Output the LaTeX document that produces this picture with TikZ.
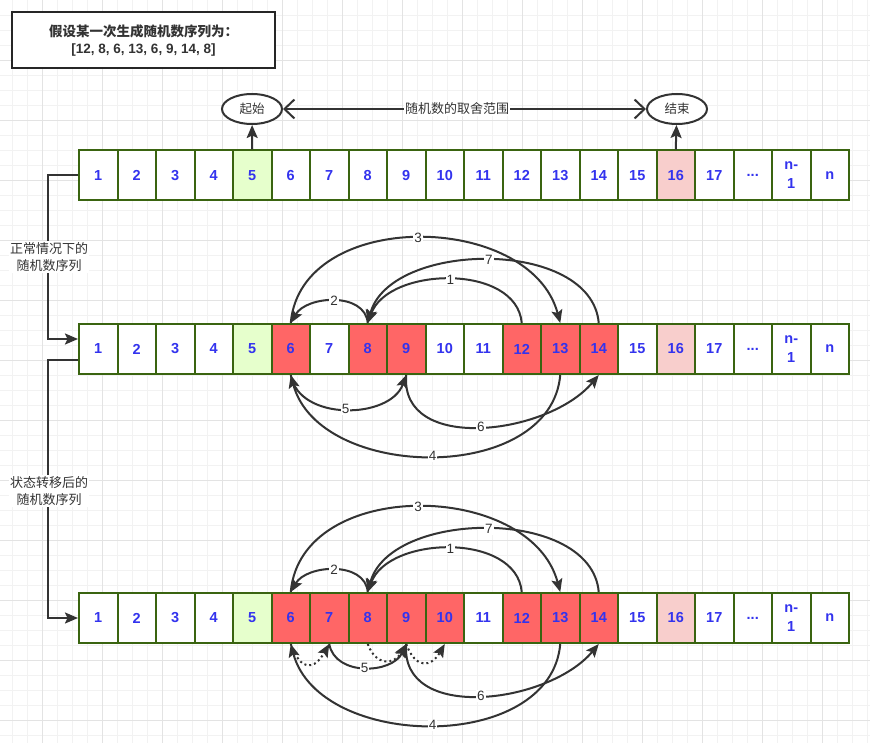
\documentclass[tikz,border=0pt]{standalone}
\usepackage{fontspec}
\setmainfont{Liberation Sans}
\newfontfamily\cjk{Noto Sans CJK SC}
\usetikzlibrary{arrows.meta, shapes.geometric}

\definecolor{cellline}{HTML}{3A6410}
\definecolor{hitred}{HTML}{FF6666}
\definecolor{lowgreen}{HTML}{E6FFCC}
\definecolor{highpink}{HTML}{F8CECC}
\definecolor{numblue}{HTML}{3333EE}
\definecolor{ink}{HTML}{333333}

\tikzset{
  gridminor/.style={draw=black!5, line width=0.8pt},
  gridmajor/.style={draw=black!11, line width=0.8pt},
  cell/.style={draw=cellline, line width=2pt, fill=white, minimum width=38.5pt,
    minimum height=50pt, inner sep=0pt, align=center, text=numblue,
    font=\fontsize{14.5}{19}\selectfont\bfseries},
  emp/.style={},
  beg/.style={fill=lowgreen},
  hit/.style={fill=hitred},
  fin/.style={fill=highpink},
  bound/.style={ellipse, draw=ink, line width=2pt, fill=white, minimum width=60pt,
    minimum height=30pt, inner sep=0pt, text=ink, font=\cjk\fontsize{12.5}{15}\selectfont},
  conn/.style={draw=ink, line width=2pt},
  arr/.style={conn, -{Stealth[length=13pt,width=11pt,inset=2.5pt]}},
  lbl/.style={fill=white, text=ink, inner sep=1pt, font=\fontsize{13.5}{15}\selectfont},
  side/.style={fill=white, text=ink, inner sep=1pt, align=center, font=\cjk\fontsize{13}{17}\selectfont}
}

% one row of cells: name, y, fills of cells 1..17
\newcommand\cellrow[3]{%
  \foreach \f [count=\i] in {#3}
    \node[cell, \f] (#1-\i) at ({79+38.5*(\i-0.5)}, #2) {\i};
  \node[cell] (#1-18) at (752.75, #2) {...};
  \node[cell] (#1-19) at (791.25, #2) {n-\\1};
  \node[cell] (#1-20) at (829.75, #2) {n};
}

\begin{document}
\begin{tikzpicture}[x=1pt, y=-1pt]

% Background grid
\fill[white] (0,0) rectangle (870,743);
\useasboundingbox (0,0) rectangle (870,743);
\foreach \gx in {12,27,...,867} \draw[gridminor] (\gx,0) -- (\gx,743);
\foreach \gy in {15,30,...,735} \draw[gridminor] (0,\gy) -- (870,\gy);
\foreach \gx in {42,102,...,822} \draw[gridmajor] (\gx,0) -- (\gx,743);
\foreach \gy in {60,120,...,720} \draw[gridmajor] (0,\gy) -- (870,\gy);

% Title
\node[draw=black!85, line width=2pt, fill=white, minimum width=263pt, minimum height=56pt,
  align=center, text=ink, font=\fontsize{13.5}{17}\selectfont\bfseries]
  (title) at (143.5,40.5) {{\cjk 假设某一次生成随机数序列为：}\\{[12, 8, 6, 13, 6, 9, 14, 8]}};

% Rows
\cellrow{r1}{175.5}{emp,emp,emp,emp,beg,emp,emp,emp,emp,emp,emp,emp,emp,emp,emp,fin,emp}
\cellrow{r2}{349}{emp,emp,emp,emp,beg,hit,emp,hit,hit,emp,emp,hit,hit,hit,emp,fin,emp}
\cellrow{r3}{618}{emp,emp,emp,emp,beg,hit,hit,hit,hit,hit,emp,hit,hit,hit,emp,fin,emp}

% Range
\node[bound] (lo) at (252,109) {起始};
\node[bound] (hi) at (677,109) {结束};
\draw[conn, {Straight Barb[length=10pt,width=19pt]}-{Straight Barb[length=10pt,width=19pt]}]
  (lo) -- node[lbl, pos=0.48, font=\cjk\fontsize{13}{15}\selectfont] {随机数的取舍范围} (hi);
\draw[arr] (r1-5.north) -- (lo);
\draw[arr] (r1-16.north) -- (hi);

% Left links
\draw[arr] (r1-1.west) -- ++(-30,0) |- ([yshift=10pt]r2-1.west);
\draw[arr] ([yshift=-11pt]r2-1.west) -- ++(-30,0) |- (r3-1.west);
\node[side] (normal) at (49,257) {正常情况下的\\随机数序列};
\node[side] (moved) at (49,491) {状态转移后的\\随机数序列};

% Jumps, normal case
\draw[arr] (r2-12.north) to[out=95,in=70,looseness=1] node[lbl] {1} (r2-8.north);
\draw[arr] (r2-8.north) to[out=95,in=60,looseness=1.05] node[lbl] {2} (r2-6.north);
\draw[arr] (r2-6.north) to[out=85,in=105,looseness=1.1] node[lbl] {3} (r2-13.north);
\draw[arr] (r2-14.north) to[out=95,in=75,looseness=0.95] node[lbl] {7} (r2-8.north);
\draw[arr] (r2-13.south) to[out=-95,in=-75,looseness=1.05] node[lbl] {4} (r2-6.south);
\draw[arr] (r2-6.south) to[out=-80,in=-110,looseness=1.05] node[lbl] {5} (r2-9.south);
\draw[arr] (r2-9.south) to[out=-95,in=-130,looseness=1.05] node[lbl] {6} (r2-14.south);

% Jumps, after moving
\draw[arr] (r3-12.north) to[out=95,in=70,looseness=1] node[lbl] {1} (r3-8.north);
\draw[arr] (r3-8.north) to[out=95,in=60,looseness=1.05] node[lbl] {2} (r3-6.north);
\draw[arr] (r3-6.north) to[out=85,in=105,looseness=1.1] node[lbl] {3} (r3-13.north);
\draw[arr] (r3-14.north) to[out=95,in=75,looseness=0.95] node[lbl] {7} (r3-8.north);
\draw[arr] (r3-13.south) to[out=-95,in=-75,looseness=1.05] node[lbl] {4} (r3-6.south);
\draw[arr] (r3-7.south) to[out=-80,in=-115,looseness=1.1] node[lbl] {5} (r3-9.south);
\draw[arr] (r3-9.south) to[out=-95,in=-130,looseness=1.05] node[lbl] {6} (r3-14.south);
\draw[arr, dash pattern=on 2pt off 3pt] (r3-6.south) to[out=-70,in=-120,looseness=2] (r3-7.south);
\draw[arr, dash pattern=on 2pt off 3pt] (r3-8.south) to[out=-70,in=-120,looseness=1.6] (r3-9.south);
\draw[arr, dash pattern=on 2pt off 3pt] (r3-9.south) to[out=-70,in=-120,looseness=1.8] (r3-10.south);

\end{tikzpicture}
\end{document}
